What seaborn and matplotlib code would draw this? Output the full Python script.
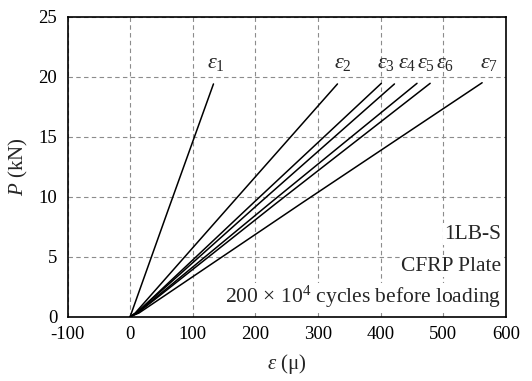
import matplotlib
matplotlib.use("Agg")
import matplotlib.pyplot as plt
import seaborn as sns
import pandas as pd

sns.set_style("white")
plt.rcParams['font.family'] = ['Liberation Serif', 'DejaVu Serif']
plt.rcParams['mathtext.fontset'] = 'custom'
plt.rcParams['mathtext.rm'] = 'Liberation Serif'
plt.rcParams['mathtext.it'] = 'Liberation Serif:italic'
plt.rcParams['mathtext.bf'] = 'Liberation Serif:bold'
plt.rcParams['axes.unicode_minus'] = False

series = ["e1", "e2", "e3", "e4", "e5", "e6", "e7"]
strain_x = {
    "e1": [0, 2, 60, 133],
    "e2": [0, 8, 160, 331],
    "e3": [0, 10, 195, 401],
    "e4": [0, 10, 205, 422],
    "e5": [0, 11, 222, 458],
    "e6": [0, 12, 232, 479],
    "e7": [0, 14, 275, 562],
}
load_y = {
    "e1": [0, 0.3, 8.8, 19.4],
    "e2": [0, 0.3, 9.3, 19.4],
    "e3": [0, 0.3, 9.4, 19.45],
    "e4": [0, 0.3, 9.4, 19.4],
    "e5": [0, 0.3, 9.4, 19.45],
    "e6": [0, 0.3, 9.4, 19.45],
    "e7": [0, 0.3, 9.5, 19.5],
}
labels = [r"$\varepsilon_{\mathit{1}}$", r"$\varepsilon_{\mathit{2}}$", r"$\varepsilon_{\mathit{3}}$",
          r"$\varepsilon_{\mathit{4}}$", r"$\varepsilon_{\mathit{5}}$", r"$\varepsilon_{\mathit{6}}$",
          r"$\varepsilon_{\mathit{7}}$"]
label_x = [136, 340, 409, 443, 472, 502, 573]
label_y = [21.1, 21.1, 21.1, 21.1, 21.1, 21.1, 21.1]

rows = []
for s in series:
    for xv, yv in zip(strain_x[s], load_y[s]):
        rows.append({"series": s, "strain": xv, "load": yv})
df = pd.DataFrame(rows)

fig = plt.figure(figsize=(5.32, 3.81), dpi=100)
ax = fig.add_axes([0.127, 0.169, 0.824, 0.787])

sns.lineplot(data=df, x="strain", y="load", units="series", estimator=None,
             color="black", lw=1.1, sort=False, ax=ax, legend=False)

for lab, lx, ly in zip(labels, label_x, label_y):
    ax.text(lx, ly, lab, fontsize=16, ha="center", va="center")

ax.set_xlim(-100, 600)
ax.set_ylim(0, 25)
ax.set_xticks([-100, 0, 100, 200, 300, 400, 500, 600])
ax.set_yticks([0, 5, 10, 15, 20, 25])
ax.grid(True, linestyle=(0, (4, 3)), color="#8c8c8c", lw=0.8)
for sp in ax.spines.values():
    sp.set_color("black")
    sp.set_linewidth(1.2)
ax.tick_params(axis="x", direction="inout", length=6, width=1, labelsize=13.5, colors="black")
ax.tick_params(axis="y", direction="out", length=4, width=1, labelsize=13.5, colors="black")
ax.set_xlabel(r"$\varepsilon$ (μ)", fontsize=15, labelpad=7)
ax.set_ylabel(r"$P$ (kN)", fontsize=15, labelpad=6)

box = dict(facecolor="white", edgecolor="none", pad=1.0)
ax.text(0.99, 0.275, "1LB-S", transform=ax.transAxes, ha="right", va="center", fontsize=15.5, bbox=box)
ax.text(0.99, 0.168, "CFRP Plate", transform=ax.transAxes, ha="right", va="center", fontsize=15.5, bbox=box)
ax.text(0.99, 0.065, r"200$\,\times\,$10$^{4}$ cycles before loading", transform=ax.transAxes,
        ha="right", va="center", fontsize=15.5, bbox=box)

fig.savefig("out.png", dpi=100)
